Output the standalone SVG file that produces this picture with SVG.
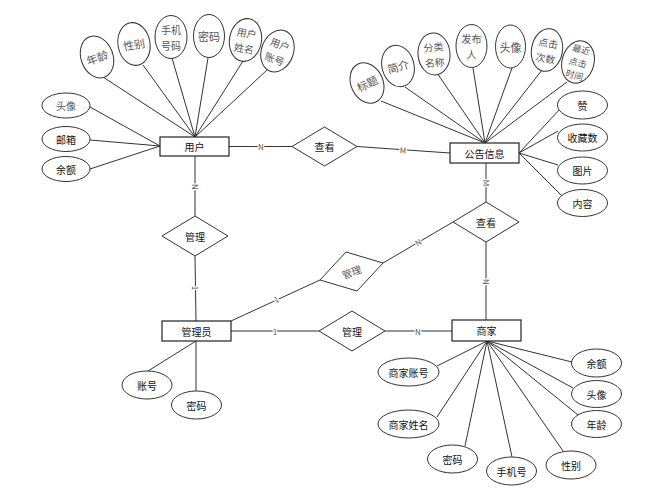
<svg xmlns="http://www.w3.org/2000/svg" width="669" height="490" viewBox="0 0 669 490">
<style>
.bg{fill:#fff}
.ent{fill:#fff;stroke:#222;stroke-width:1.2}
.rel{fill:#fff;stroke:#333;stroke-width:1}
.att{fill:#fff;stroke:#333;stroke-width:1}
.ln{stroke:#333;stroke-width:1;fill:none}
text{font-family:"Noto Sans CJK SC","Liberation Sans",sans-serif;text-anchor:middle;dominant-baseline:central}
.t{font-size:10px;fill:#111}
.g{font-size:11px;fill:#555}
.g2{font-size:10px;fill:#555}
.gs{font-size:10px;fill:#555}
.g3{font-size:9px;fill:#555}
.c{font-size:8px;fill:#555;stroke:#fff;stroke-width:2.5;paint-order:stroke}
</style>
<rect class="bg" x="0" y="0" width="669" height="490"/>
<g id="connectors">
<line class="ln" x1="103" y1="77" x2="195" y2="137"/>
<line class="ln" x1="143" y1="65" x2="195" y2="137"/>
<line class="ln" x1="172" y1="58" x2="195" y2="137"/>
<line class="ln" x1="208" y1="58" x2="195" y2="137"/>
<line class="ln" x1="243" y1="61" x2="195" y2="137"/>
<line class="ln" x1="267" y1="70" x2="195" y2="137"/>
<line class="ln" x1="90" y1="107" x2="160" y2="146"/>
<line class="ln" x1="90" y1="140" x2="160" y2="146"/>
<line class="ln" x1="90" y1="169" x2="160" y2="146"/>
<line class="ln" x1="381" y1="101" x2="485" y2="143"/>
<line class="ln" x1="405" y1="87" x2="485" y2="143"/>
<line class="ln" x1="437" y1="73" x2="485" y2="143"/>
<line class="ln" x1="473" y1="68" x2="485" y2="143"/>
<line class="ln" x1="512" y1="68" x2="485" y2="143"/>
<line class="ln" x1="542" y1="70" x2="485" y2="143"/>
<line class="ln" x1="567" y1="82" x2="485" y2="143"/>
<line class="ln" x1="560" y1="109" x2="519" y2="153"/>
<line class="ln" x1="558" y1="131" x2="519" y2="153"/>
<line class="ln" x1="558" y1="165" x2="519" y2="153"/>
<line class="ln" x1="562" y1="196" x2="519" y2="153"/>
<line class="ln" x1="148" y1="371" x2="196" y2="341"/>
<line class="ln" x1="196" y1="391" x2="196" y2="341"/>
<line class="ln" x1="437" y1="366" x2="487" y2="341"/>
<line class="ln" x1="437" y1="417" x2="487" y2="341"/>
<line class="ln" x1="465" y1="446" x2="487" y2="341"/>
<line class="ln" x1="512" y1="457" x2="487" y2="341"/>
<line class="ln" x1="563" y1="451" x2="487" y2="341"/>
<line class="ln" x1="572" y1="362" x2="487" y2="341"/>
<line class="ln" x1="573" y1="388" x2="487" y2="341"/>
<line class="ln" x1="578" y1="415" x2="487" y2="341"/>
<line class="ln" x1="229" y1="146.5" x2="292" y2="146.5"/>
<line class="ln" x1="357" y1="146.5" x2="450" y2="153"/>
<line class="ln" x1="195" y1="156" x2="195" y2="216"/>
<line class="ln" x1="195" y1="256" x2="196" y2="321"/>
<line class="ln" x1="486" y1="163" x2="486" y2="202"/>
<line class="ln" x1="486" y1="242" x2="486" y2="320"/>
<line class="ln" x1="231" y1="321" x2="320" y2="280"/>
<line class="ln" x1="383" y1="263" x2="453" y2="222"/>
<line class="ln" x1="231" y1="331" x2="319" y2="331"/>
<line class="ln" x1="385" y1="331" x2="452" y2="331"/>
<text class="c" x="261" y="146.5">N</text>
<text class="c" x="403" y="150" transform="rotate(4 403 150)">M</text>
<text class="c" x="195" y="187" transform="rotate(90 195 187)">N</text>
<text class="c" x="195" y="288" transform="rotate(90 195 288)">1</text>
<text class="c" x="486" y="183" transform="rotate(90 486 183)">M</text>
<text class="c" x="486" y="282" transform="rotate(90 486 282)">N</text>
<text class="c" x="276" y="299" transform="rotate(-25 276 299)">1</text>
<text class="c" x="418" y="242" transform="rotate(-30 418 242)">N</text>
<text class="c" x="275" y="331">1</text>
<text class="c" x="418" y="331">N</text>
</g>
<g id="user"><rect class="ent" x="160" y="137" width="69" height="19"/><text class="t" x="194.5" y="146.5">用户</text></g>
<g id="notice"><rect class="ent" x="450" y="143" width="69" height="20"/><text class="t" x="484.5" y="153">公告信息</text></g>
<g id="admin"><rect class="ent" x="162" y="321" width="69" height="20"/><text class="t" x="196.5" y="331">管理员</text></g>
<g id="merchant"><rect class="ent" x="452" y="320" width="69" height="21"/><text class="t" x="486.5" y="330.5">商家</text></g>
<g id="rel-view1"><polygon class="rel" points="292,146.5 324.5,127 357,146.5 324.5,166"/><text class="t" x="324.5" y="146.5">查看</text></g>
<g id="rel-view2"><polygon class="rel" points="453,222 486,202 519,222 486,242"/><text class="t" x="486" y="222">查看</text></g>
<g id="rel-manage1"><polygon class="rel" points="162,236 195,216 228,236 195,256"/><text class="t" x="195" y="236">管理</text></g>
<g id="rel-manage2"><polygon class="rel" points="320,280 346,252 383,263 357,291"/><text class="gs" x="351.5" y="271.5" transform="rotate(-20 351.5 271.5)">管理</text></g>
<g id="rel-manage3"><polygon class="rel" points="319,331 352,311 385,331 352,351"/><text class="t" x="352" y="331">管理</text></g>
<g id="u-age"><ellipse class="att" cx="97" cy="57" rx="16" ry="21.5" transform="rotate(-20 97 57)"/><text class="g" x="97" y="57" transform="rotate(-20 97 57)">年龄</text></g>
<g id="u-sex"><ellipse class="att" cx="134" cy="44" rx="16" ry="21.5" transform="rotate(-10 134 44)"/><text class="g" x="134" y="44" transform="rotate(-10 134 44)">性别</text></g>
<g id="u-phone"><ellipse class="att" cx="171" cy="37" rx="16" ry="21.5"/><text class="g2" x="171" y="29.5">手机<tspan x="171" dy="15">号码</tspan></text></g>
<g id="u-pwd"><ellipse class="att" cx="209" cy="36" rx="15.5" ry="21.5"/><text class="g" x="209" y="36">密码</text></g>
<g id="u-name"><ellipse class="att" cx="245.5" cy="40" rx="16" ry="21.5" transform="rotate(10 245.5 40)"/><text class="g2" x="245.5" y="32.5" transform="rotate(10 245.5 40)">用户<tspan x="245.5" dy="15">姓名</tspan></text></g>
<g id="u-acct"><ellipse class="att" cx="277.5" cy="51" rx="16" ry="21.5" transform="rotate(20 277.5 51)"/><text class="g2" x="277.5" y="43.5" transform="rotate(20 277.5 51)">用户<tspan x="277.5" dy="15">账号</tspan></text></g>
<g id="u-avatar"><ellipse class="att" cx="66" cy="105.5" rx="24" ry="12.5"/><text class="gs" x="66" y="105.5">头像</text></g>
<g id="u-mail"><ellipse class="att" cx="66" cy="139" rx="24" ry="12.5"/><text class="t" x="66" y="139">邮箱</text></g>
<g id="u-bal"><ellipse class="att" cx="66" cy="169" rx="24" ry="12.5"/><text class="t" x="66" y="169">余额</text></g>
<g id="n-title"><ellipse class="att" cx="367" cy="83" rx="16" ry="21" transform="rotate(-25 367 83)"/><text class="g" x="367" y="83" transform="rotate(-25 367 83)">标题</text></g>
<g id="n-intro"><ellipse class="att" cx="398" cy="66" rx="16" ry="21" transform="rotate(-15 398 66)"/><text class="g" x="398" y="66" transform="rotate(-15 398 66)">简介</text></g>
<g id="n-cat"><ellipse class="att" cx="434" cy="54" rx="16" ry="21" transform="rotate(-5 434 54)"/><text class="g2" x="434" y="46.5" transform="rotate(-5 434 54)">分类<tspan x="434" dy="15">名称</tspan></text></g>
<g id="n-pub"><ellipse class="att" cx="471.5" cy="46" rx="15.5" ry="21.5"/><text class="g2" x="471.5" y="38.5">发布<tspan x="471.5" dy="15">人</tspan></text></g>
<g id="n-avatar"><ellipse class="att" cx="510.5" cy="46.5" rx="15" ry="21.5"/><text class="g" x="510.5" y="46.5">头像</text></g>
<g id="n-clicks"><ellipse class="att" cx="547" cy="50" rx="15.5" ry="21.5" transform="rotate(10 547 50)"/><text class="g2" x="547" y="42.5" transform="rotate(10 547 50)">点击<tspan x="547" dy="15">次数</tspan></text></g>
<g id="n-last"><ellipse class="att" cx="578" cy="62" rx="16" ry="21.5" transform="rotate(15 578 62)"/><text class="g3" x="578" y="49" transform="rotate(15 578 62)">最近<tspan x="578" dy="13">点击</tspan><tspan x="578" dy="13">时间</tspan></text></g>
<g id="n-like"><ellipse class="att" cx="582.5" cy="105" rx="25" ry="14"/><text class="t" x="582.5" y="105">赞</text></g>
<g id="n-fav"><ellipse class="att" cx="582.5" cy="137.5" rx="25" ry="13.5"/><text class="t" x="582.5" y="137.5">收藏数</text></g>
<g id="n-img"><ellipse class="att" cx="582.5" cy="170.5" rx="25" ry="13.5"/><text class="t" x="582.5" y="170.5">图片</text></g>
<g id="n-content"><ellipse class="att" cx="582.5" cy="203" rx="25" ry="13.5"/><text class="t" x="582.5" y="203">内容</text></g>
<g id="a-acct"><ellipse class="att" cx="147" cy="385" rx="25" ry="14"/><text class="t" x="147" y="385">账号</text></g>
<g id="a-pwd"><ellipse class="att" cx="196.5" cy="405" rx="25" ry="14"/><text class="t" x="196.5" y="405">密码</text></g>
<g id="m-acct"><ellipse class="att" cx="408.5" cy="372" rx="30.5" ry="14"/><text class="t" x="408.5" y="372">商家账号</text></g>
<g id="m-name"><ellipse class="att" cx="408.5" cy="424" rx="30.5" ry="14"/><text class="t" x="408.5" y="424">商家姓名</text></g>
<g id="m-pwd"><ellipse class="att" cx="452.5" cy="459" rx="25" ry="14"/><text class="t" x="452.5" y="459">密码</text></g>
<g id="m-phone"><ellipse class="att" cx="511.5" cy="471" rx="25" ry="14"/><text class="t" x="511.5" y="471">手机号</text></g>
<g id="m-sex"><ellipse class="att" cx="571" cy="465" rx="25" ry="14"/><text class="t" x="571" y="465">性别</text></g>
<g id="m-bal"><ellipse class="att" cx="596.5" cy="363" rx="25" ry="14"/><text class="t" x="596.5" y="363">余额</text></g>
<g id="m-avatar"><ellipse class="att" cx="596.5" cy="394" rx="25" ry="13.5"/><text class="t" x="596.5" y="394">头像</text></g>
<g id="m-age"><ellipse class="att" cx="596.5" cy="424" rx="25" ry="13.5"/><text class="t" x="596.5" y="424">年龄</text></g>
</svg>
